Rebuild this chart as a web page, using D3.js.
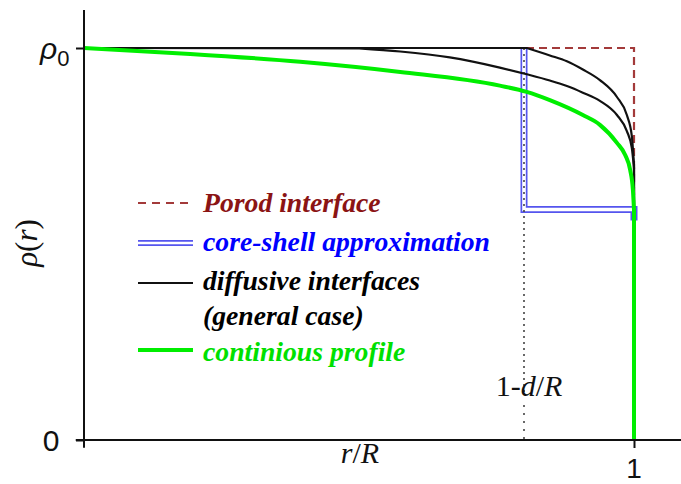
<!DOCTYPE html>
<html>
<head>
<meta charset="utf-8">
<script src="https://cdn.jsdelivr.net/npm/d3@7"></script>
<style>
	body { margin: 0; background: #fff; }
</style>
</head>
<body>
<script>
(function(){

	//profiles as [r/R, rho/rho0] pairs
	var shellStart = 0.8; //1 - d/R
	var coreShellLevel = 0.588;

	var porodProfile = [[0, 1], [1, 1], [1, 0]];
	var coreShellProfile = [[shellStart, 1], [shellStart, coreShellLevel], [1, coreShellLevel], [1, 0.56]];

	var diffuseSharp = [[0, 1], [0.805, 1], [0.847, 0.981], [0.878, 0.966], [0.907, 0.945],
		[0.938, 0.918], [0.969, 0.875], [0.987, 0.829], [0.996, 0.776], [1, 0.702]];
	var diffuseWide = [[0, 1], [0.5, 0.999], [0.575, 0.991], [0.665, 0.976], [0.756, 0.950],
		[0.805, 0.933], [0.847, 0.917], [0.878, 0.903], [0.907, 0.886], [0.938, 0.865],
		[0.969, 0.829], [0.987, 0.788], [0.996, 0.745], [1, 0.694]];
	var continuousProfile = [[0, 1], [0.193, 0.985], [0.393, 0.965], [0.575, 0.939], [0.756, 0.904],
		[0.805, 0.888], [0.847, 0.867], [0.907, 0.829], [0.938, 0.804], [0.969, 0.758],
		[0.984, 0.727], [0.993, 0.689], [0.998, 0.638], [1, 0.587]];

	var legendLabels = [["Porod interface"], ["core-shell approximation"], ["diffusive interfaces", "(general case)"], ["continious profile"]];
	var legendColors = ["#8b1414", "#0000ff", "#000", "#00e000"];
	var legendTypes = ["dashed", "double", "solid", "thick"];

	var width = 681, height = 484;
	var serif = "'Liberation Serif', 'Times New Roman', Times, 'DejaVu Serif', serif";
	var sans = "'Liberation Sans', Arial, sans-serif";

	var x = d3.scaleLinear().domain([0, 1]).range([84, 634]);
	var y = d3.scaleLinear().domain([0, 1]).range([440, 48]);

	var svg = d3.select("body")
		.append("svg")
		.attr("width", width)
		.attr("height", height);

	var line = d3.line()
		.x(function(d){ return x(d[0]); })
		.y(function(d){ return y(d[1]); });
	var smooth = d3.line()
		.x(function(d){ return x(d[0]); })
		.y(function(d){ return y(d[1]); })
		.curve(d3.curveMonotoneX);

	//straight start, smooth curve, then straight drop to zero at r = R
	function dropPath(points){
		return "M" + x(points[0][0]) + "," + y(points[0][1]) +
			smooth(points.slice(1)).replace("M", "L") +
			"L" + x(1) + "," + y(0);
	}

	//porod step (dashed)
	svg.append("path")
		.attr("d", line(porodProfile))
		.attr("fill", "none")
		.attr("stroke", "#a33a3a")
		.attr("stroke-width", 2.2)
		.attr("stroke-dasharray", "8,5");

	//core-shell double line
	svg.append("path")
		.attr("d", line(coreShellProfile))
		.attr("fill", "none")
		.attr("stroke", "#5555ee")
		.attr("stroke-width", 7)
		.attr("stroke-linejoin", "miter");
	svg.append("path")
		.attr("d", line(coreShellProfile))
		.attr("fill", "none")
		.attr("stroke", "#fff")
		.attr("stroke-width", 3.6)
		.attr("stroke-linejoin", "miter");

	//dotted marker at 1-d/R
	svg.append("line")
		.attr("x1", x(shellStart)).attr("x2", x(shellStart))
		.attr("y1", y(1)).attr("y2", y(0.112))
		.attr("stroke", "#444")
		.attr("stroke-width", 1.6)
		.attr("stroke-dasharray", "2,4");
	svg.append("line")
		.attr("x1", x(shellStart)).attr("x2", x(shellStart))
		.attr("y1", y(0.089)).attr("y2", y(0))
		.attr("stroke", "#444")
		.attr("stroke-width", 1.6)
		.attr("stroke-dasharray", "2,6");

	//diffusive interfaces
	[diffuseSharp, diffuseWide].forEach(function(p){
		svg.append("path")
			.attr("d", dropPath(p))
			.attr("fill", "none")
			.attr("stroke", "#111")
			.attr("stroke-width", 2.2);
	});

	//continuous profile
	svg.append("path")
		.attr("d", smooth(continuousProfile) + "L" + x(1) + "," + y(0))
		.attr("fill", "none")
		.attr("stroke", "#00ee00")
		.attr("stroke-width", 4);

	//axes
	var yAxis = svg.append("g")
		.attr("transform", "translate(" + x(0) + ",0)")
		.call(d3.axisLeft(y).tickValues([0, 1]).tickSize(8).tickFormat(function(){ return ""; }));
	yAxis.select(".domain").remove();
	yAxis.selectAll("line").attr("stroke", "#111").attr("stroke-width", 2);

	var xAxis = svg.append("g")
		.attr("transform", "translate(0," + y(0) + ")")
		.call(d3.axisBottom(x).tickValues([1]).tickSize(8).tickFormat(function(){ return ""; }));
	xAxis.select(".domain").remove();
	xAxis.selectAll("line").attr("stroke", "#111").attr("stroke-width", 2);

	svg.append("line")
		.attr("x1", x(0)).attr("x2", x(0))
		.attr("y1", y(1.097)).attr("y2", y(-0.02))
		.attr("stroke", "#111").attr("stroke-width", 2);
	svg.append("line")
		.attr("x1", x(-0.015)).attr("x2", width)
		.attr("y1", y(0)).attr("y2", y(0))
		.attr("stroke", "#111").attr("stroke-width", 2);

	//tick labels
	svg.append("text")
		.attr("font-family", sans)
		.attr("x", 51).attr("y", y(0) + 10.5)
		.attr("text-anchor", "middle")
		.attr("font-size", 30)
		.attr("fill", "#111")
		.text("0");
	svg.append("text")
		.attr("font-family", sans)
		.attr("x", x(1)).attr("y", 478)
		.attr("text-anchor", "middle")
		.attr("font-size", 28)
		.attr("fill", "#111")
		.text("1");
	var rho0 = svg.append("text")
		.attr("font-family", sans)
		.attr("x", 40).attr("y", 59)
		.attr("fill", "#111");
	rho0.append("tspan").attr("font-size", 30).attr("font-style", "italic").text("ρ");
	rho0.append("tspan").attr("font-size", 22).attr("dy", 7).text("0");

	//axis titles
	var yTitle = svg.append("text")
		.attr("font-family", serif)
		.attr("transform", "translate(37,243) rotate(-90)")
		.attr("text-anchor", "middle")
		.attr("font-size", 31)
		.attr("fill", "#111");
	yTitle.append("tspan").attr("font-style", "italic").text("ρ");
	yTitle.append("tspan").text("(");
	yTitle.append("tspan").attr("font-style", "italic").text("r");
	yTitle.append("tspan").text(")");

	var xTitle = svg.append("text")
		.attr("font-family", serif)
		.attr("font-size", 30)
		.attr("x", 360).attr("y", 463)
		.attr("text-anchor", "middle")
		.attr("fill", "#111");
	xTitle.append("tspan").attr("font-style", "italic").text("r");
	xTitle.append("tspan").text("/");
	xTitle.append("tspan").attr("font-style", "italic").text("R");

	var dLabel = svg.append("text")
		.attr("font-family", serif)
		.attr("font-size", 30)
		.attr("x", 529).attr("y", 396)
		.attr("text-anchor", "middle")
		.attr("fill", "#111");
	dLabel.append("tspan").text("1-");
	dLabel.append("tspan").attr("font-style", "italic").text("d");
	dLabel.append("tspan").text("/");
	dLabel.append("tspan").attr("font-style", "italic").text("R");

	//legend
	var legendY = [203, 243, 283, 350];
	var textY = [212, 251, 290, 361];
	legendLabels.forEach(function(label, i){
		var g = svg.append("g");
		var type = legendTypes[i];
		if (type == "double"){
			g.append("line").attr("x1", 138).attr("x2", 193).attr("y1", legendY[i]).attr("y2", legendY[i])
				.attr("stroke", "#5555ee").attr("stroke-width", 6);
			g.append("line").attr("x1", 138).attr("x2", 193).attr("y1", legendY[i]).attr("y2", legendY[i])
				.attr("stroke", "#fff").attr("stroke-width", 2.4);
		} else {
			g.append("line").attr("x1", 138).attr("x2", 193).attr("y1", legendY[i]).attr("y2", legendY[i])
				.attr("stroke", type == "dashed" ? "#a33a3a" : (type == "thick" ? "#00ee00" : "#111"))
				.attr("stroke-width", type == "thick" ? 4 : 2.2)
				.attr("stroke-dasharray", type == "dashed" ? "8,6" : null);
		}
		label.forEach(function(t, j){
			g.append("text")
				.attr("font-family", serif)
				.attr("font-weight", "bold")
				.attr("font-style", "italic")
				.attr("font-size", 27.7)
				.attr("x", 203)
				.attr("y", textY[i] + j * 35)
				.attr("fill", legendColors[i])
				.text(t);
		});
	});
})();
</script>
</body>
</html>
